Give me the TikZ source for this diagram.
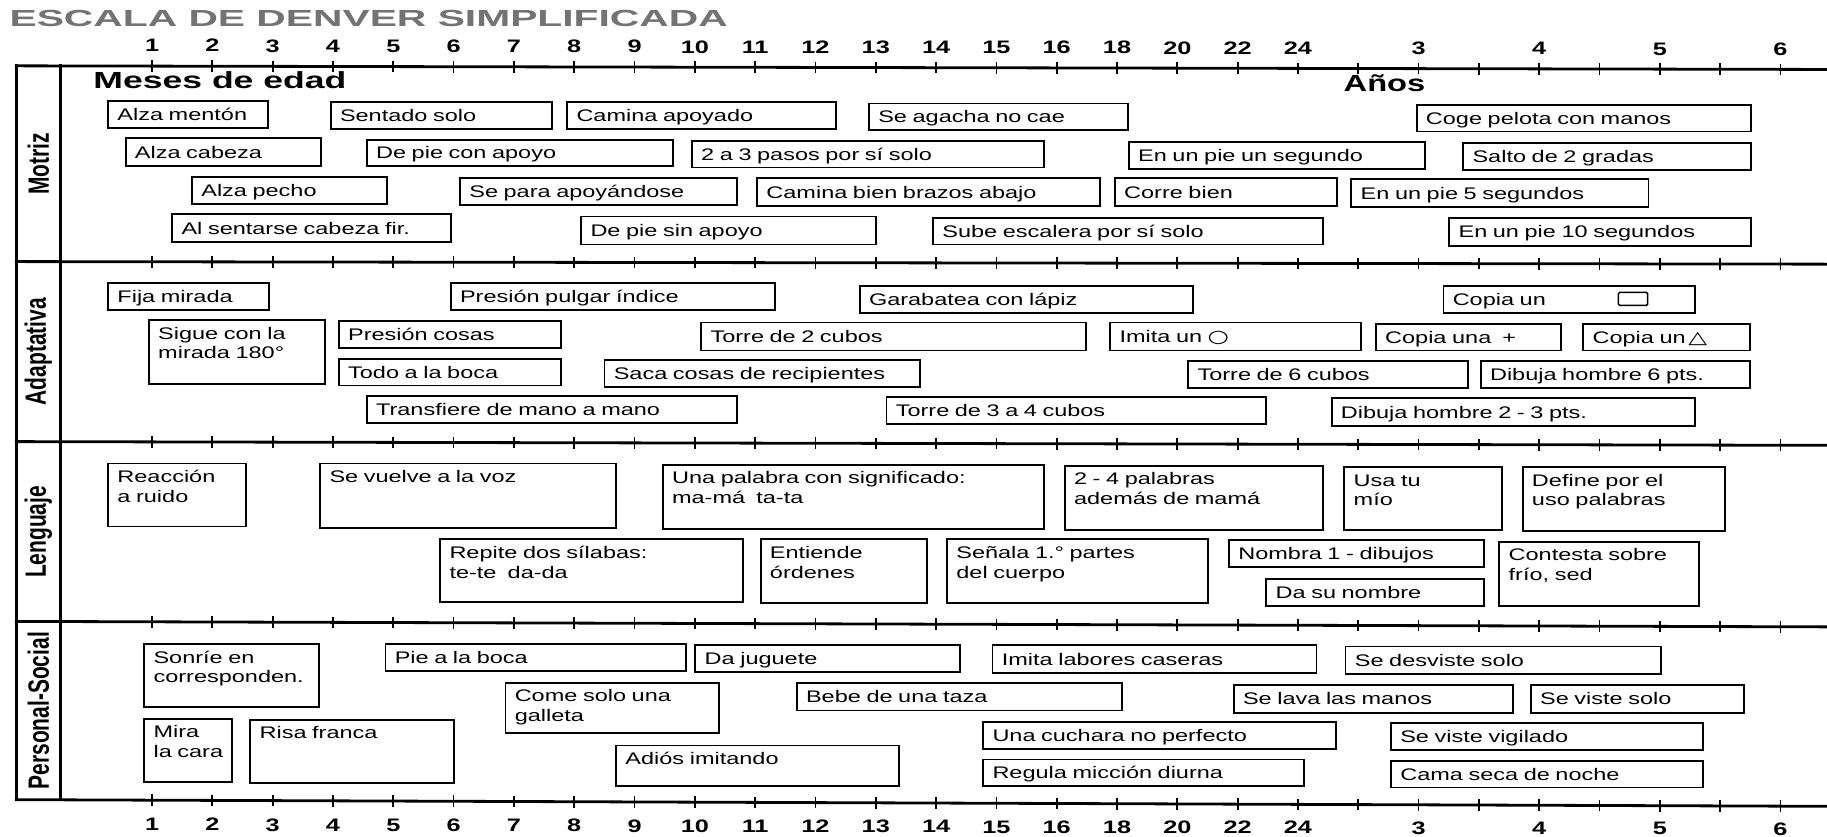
\documentclass[tikz,border=0pt]{standalone}
\usepackage{fontspec}
\usepackage{graphicx}
\newfontfamily\bxf{Liberation Sans}[FakeStretch=1.4]
\newfontfamily\plf{Liberation Sans}
\newfontfamily\symf{DejaVu Sans}[FakeStretch=1.4]
\tikzset{
  bx/.style={draw, line width=1.6pt, anchor=north west, align=left, inner xsep=8pt,
    font=\bxf\fontsize{14.4}{17}\selectfont},
  onel/.style={bx, inner ysep=0pt, text height=10.3pt, text depth=0pt},
  topl/.style={bx, inner ysep=2.3pt, text height=14pt},
  sect/.style={line width=2.4pt, line cap=rect},
  frm/.style={line width=2.7pt, line cap=rect},
  tck/.style={line width=1.5pt},
  ticklab/.style={font=\bxf\bfseries\fontsize{15.5}{18}\selectfont, anchor=base, inner sep=0pt},
  seclab/.style={font=\plf\bfseries\fontsize{18}{20}\selectfont, inner sep=0pt},
  symb/.style={line width=1.3pt, rounded corners=1pt}
}
\newcommand\oneb[6]{%
  \pgfmathsetmacro\boxW{#4-#2-16}\pgfmathsetmacro\boxH{#5-#3}%
  \node[onel, text width=\boxW pt, minimum height=\boxH pt] (#1) at (#2,#3) {\mbox{#6}};}
\newcommand\topb[7]{%
  \pgfmathsetmacro\boxW{#4-#2-16}\pgfmathsetmacro\boxD{#5-#3-18.6}%
  \node[topl, text width=\boxW pt, text depth=\boxD pt] (#1) at (#2,#3) {\mbox{#6}\\\mbox{#7}};}
\newcommand\axisline[2]{%
  \draw[sect] (14,#1) -- (1568,#2);
  \foreach \i in {0,...,27}{%
    \pgfmathsetmacro\tx{130.5+51.76*\i}%
    \pgfmathsetmacro\ty{#1+(#2-#1)*(\tx-14)/1554}%
    \draw[tck] (\tx,\ty-5) -- (\tx,\ty+5);
  }}
\begin{document}
\begin{tikzpicture}[x=1pt,y=-1pt]
\useasboundingbox (0,0) rectangle (1568,718);
\fill[white] (0,0) rectangle (1568,718);

% title
\node[anchor=base west, inner sep=0pt, text=black!55, font=\plf\bfseries\fontsize{20}{22}\selectfont] (title) at (8,23) {\scalebox{1.75}[1]{ESCALA DE DENVER SIMPLIFICADA}};

% frame and axes
\draw[frm] (14,56.5) -- (14,686.3);
\draw[frm] (51.7,56.5) -- (51.7,686.3);
\axisline{56.5}{59.6}
\axisline{224.5}{226.7}
\axisline{379}{382.2}
\axisline{533.3}{538}
\axisline{686.3}{692}

% tick labels
\foreach \k/\lab in {0/1,1/2,2/3,3/4,4/5,5/6,6/7,7/8,8/9,9/10,10/11,11/12,12/13,13/14,14/15,15/16,16/18,17/20,18/22,19/24,21/3,23/4,25/5,27/6}{%
  \pgfmathsetmacro\tx{130.5+51.76*\k}%
  \node[ticklab] (tt\k) at (\tx,{44.5+3*\k/27}) {\lab};
  \node[ticklab] (tb\k) at (\tx,{713+3.7*\k/27}) {\lab};
}

% headings
\node[anchor=base west, inner sep=0pt, font=\bxf\bfseries\fontsize{20}{22}\selectfont] (meses) at (80,75.8) {\scalebox{1.09}[1]{Meses de edad}};
\node[anchor=base west, inner sep=0pt, font=\bxf\bfseries\fontsize{20}{22}\selectfont] (anos) at (1153,78.7) {Años};

% section labels
\node[seclab] (lm) at (32.9,140.5) {\scalebox{1.4}[1]{\rotatebox{90}{Motriz}}};
\node[seclab] (la) at (32.9,301.7) {\scalebox{1.4}[1]{\rotatebox{90}{Adaptativa}}};
\node[seclab] (ll) at (32.9,456.5) {\scalebox{1.4}[1]{\rotatebox{90}{Lenguaje}}};
\node[seclab] (lp) at (32.9,610) {\scalebox{1.4}[1]{\rotatebox{90}{Personal-Social}}};

% Motriz
\oneb{m1}{92}{86}{229}{109}{Alza mentón}
\oneb{m2}{283}{87}{473}{110}{Sentado solo}
\oneb{m3}{486}{87}{717}{110}{Camina apoyado}
\oneb{m4}{745}{88}{967}{111}{Se agacha no cae}
\oneb{m5}{1215}{89}{1502}{112}{Coge pelota con manos}
\oneb{m6}{107}{118}{275}{142}{Alza cabeza}
\oneb{m7}{314}{119}{577}{142}{De pie con apoyo}
\oneb{m8}{593}{120}{895}{143}{2 a 3 pasos por sí solo}
\oneb{m9}{968}{121}{1222}{144}{En un pie un segundo}
\oneb{m10}{1255}{122}{1502}{145}{Salto de 2 gradas}
\oneb{m11}{164}{151}{331}{174}{Alza pecho}
\oneb{m12}{394}{152}{632}{175}{Se para apoyándose}
\oneb{m13}{649}{152}{943}{176}{Camina bien brazos abajo}
\oneb{m14}{956}{152}{1147}{176}{Corre bien}
\oneb{m15}{1159}{153}{1414}{177}{En un pie 5 segundos}
\oneb{m16}{147}{183}{386}{207}{Al sentarse cabeza fir.}
\oneb{m17}{498}{185}{751}{209}{De pie sin apoyo}
\oneb{m18}{800}{186}{1135}{209}{Sube escalera por sí solo}
\oneb{m19}{1243}{186}{1502}{210}{En un pie 10 segundos}

% Adaptativa
\oneb{a1}{92}{242}{230}{265}{Fija mirada}
\oneb{a2}{386}{242}{664}{265}{Presión pulgar índice}
\oneb{a3}{737}{245}{1023}{268}{Garabatea con lápiz}
\oneb{a4}{1238}{245}{1454}{268}{Copia un}
\draw[symb] (1389,251) rectangle (1414,262);
\topb{a5}{127}{274}{278}{329}{Sigue con la}{mirada 180°}
\oneb{a6}{290}{275}{481}{298}{Presión cosas}
\oneb{a7}{601}{276}{931}{300}{Torre de 2 cubos}
\oneb{a8}{952}{276}{1167}{300}{Imita un {\symf\fontsize{15}{17}\selectfont ○}}
\oneb{a9}{1180}{277}{1339}{300}{Copia una~~+}
\oneb{a10}{1358}{277}{1501}{300}{Copia un\,{\symf\fontsize{15}{17}\selectfont △}}
\oneb{a11}{290}{307}{481}{330}{Todo a la boca}
\oneb{a12}{518}{308}{789}{331}{Saca cosas de recipientes}
\oneb{a13}{1019}{309}{1259}{332}{Torre de 6 cubos}
\oneb{a14}{1270}{309}{1501}{332}{Dibuja hombre 6 pts.}
\oneb{a15}{314}{339}{632}{362}{Transfiere de mano a mano}
\oneb{a16}{760}{340}{1086}{363}{Torre de 3 a 4 cubos}
\oneb{a17}{1142}{341}{1454}{365}{Dibuja hombre 2 - 3 pts.}

% Lenguaje
\topb{l1}{92}{397}{210}{451}{Reacción}{a ruido}
\topb{l2}{274}{397}{528}{452}{Se vuelve a la voz}{}
\topb{l3}{568}{398}{895}{453}{Una palabra con significado:}{ma-má\ \ ta-ta}
\topb{l4}{913}{399}{1135}{454}{2 - 4 palabras}{además de mamá}
\topb{l5}{1153}{400}{1288}{454}{Usa tu}{mío}
\topb{l6}{1306}{400}{1480}{455}{Define por el}{uso palabras}
\topb{l7}{377}{462}{637}{516}{Repite dos sílabas:}{te-te\ \ da-da}
\topb{l8}{652}{462}{795}{517}{Entiende}{órdenes}
\topb{l9}{812}{462}{1036}{517}{Señala 1.° partes}{del cuerpo}
\oneb{l10}{1054}{463}{1273}{486}{Nombra 1 - dibujos}
\oneb{l11}{1086}{496}{1273}{519}{Da su nombre}
\topb{l12}{1286}{464}{1457}{519}{Contesta sobre}{frío, sed}

% Personal-Social
\topb{p1}{123}{552}{273}{606}{Sonríe en}{corresponden.}
\oneb{p2}{330}{552}{588}{575}{Pie a la boca}
\oneb{p3}{596}{553}{823}{576}{Da juguete}
\oneb{p4}{851}{553}{1129}{577}{Imita labores caseras}
\oneb{p5}{1154}{554}{1425}{578}{Se desviste solo}
\topb{p6}{433}{585}{616}{628}{Come solo una}{galleta}
\oneb{p7}{683}{585}{962}{609}{Bebe de una taza}
\oneb{p8}{1058}{587}{1298}{611}{Se lava las manos}
\oneb{p9}{1313}{587}{1496}{611}{Se viste solo}
\topb{p10}{123}{616}{198}{670}{Mira}{la cara}
\topb{p11}{214}{617}{389}{671}{Risa franca}{}
\topb{p12}{528}{639}{771}{674}{Adiós imitando}{}
\oneb{p13}{843}{619}{1146}{642}{Una cuchara no perfecto}
\oneb{p14}{1193}{620}{1461}{643}{Se viste vigilado}
\oneb{p15}{843}{651}{1118}{674}{Regula micción diurna}
\oneb{p16}{1193}{652}{1461}{675}{Cama seca de noche}
\end{tikzpicture}
\end{document}
